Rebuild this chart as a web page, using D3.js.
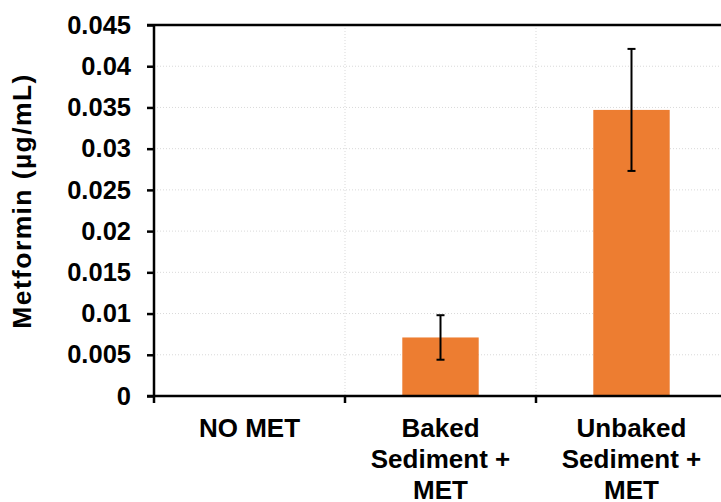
<!DOCTYPE html>
<html>
<head>
<meta charset="utf-8">
<script src="https://cdn.jsdelivr.net/npm/d3@7"></script>
<style>
  body { margin: 0; background: #fff; }
  svg { display: block; font-family: "Liberation Sans", Arial, sans-serif; font-weight: bold; }
</style>
</head>
<body>
<div id="chart"></div>
<script>
// data
var categories = ['NO MET', 'Baked Sediment + MET', 'Unbaked Sediment + MET'];
var catLines = [['NO MET'], ['Baked', 'Sediment +', 'MET'], ['Unbaked', 'Sediment +', 'MET']];
var means = [0, 0.0071, 0.0347];
var errs = [0, 0.0027, 0.0074];
var yTicks = [0, 0.005, 0.01, 0.015, 0.02, 0.025, 0.03, 0.035, 0.04, 0.045];
var yTickLabels = ['0', '0.005', '0.01', '0.015', '0.02', '0.025', '0.03', '0.035', '0.04', '0.045'];

var width = 721, height = 502;
var margin = { left: 154, top: 25, bottom: 396 };
var plotRight = 727;

var svg = d3.select('#chart').append('svg')
    .attr('width', width)
    .attr('height', height);

var xScale = d3.scaleBand()
    .domain(categories)
    .range([margin.left, plotRight])
    .paddingInner(0.6)
    .paddingOuter(0.3);
var step = xScale.step();
var yScale = d3.scaleLinear()
    .domain([0, 0.045])
    .range([margin.bottom, margin.top]);

// gridlines
svg.append('g').selectAll('line')
    .data(yTicks.slice(1, -1)).enter().append('line')
    .attr('x1', margin.left).attr('x2', plotRight)
    .attr('y1', d => yScale(d)).attr('y2', d => yScale(d))
    .attr('stroke', '#d9d9d9').attr('stroke-width', 1)
    .attr('stroke-dasharray', '1,2');
var bounds = [1, 2].map(i => margin.left + i * step);
svg.append('g').selectAll('line')
    .data(bounds).enter().append('line')
    .attr('x1', d => d).attr('x2', d => d)
    .attr('y1', margin.top).attr('y2', margin.bottom)
    .attr('stroke', '#d9d9d9').attr('stroke-width', 1)
    .attr('stroke-dasharray', '1,2');

// bars
svg.append('g').selectAll('rect')
    .data(means).enter().append('rect')
    .attr('x', (d, i) => xScale(categories[i]))
    .attr('width', xScale.bandwidth())
    .attr('y', d => yScale(d))
    .attr('height', d => yScale(0) - yScale(d))
    .attr('fill', '#ed7d31');

// error bars
var eb = svg.append('g').attr('stroke', '#000').attr('stroke-width', 2);
means.forEach(function(m, i) {
    if (errs[i] === 0) return;
    var cx = xScale(categories[i]) + xScale.bandwidth() / 2;
    var y1 = yScale(m + errs[i]), y2 = yScale(m - errs[i]);
    eb.append('line').attr('x1', cx).attr('x2', cx).attr('y1', y1).attr('y2', y2);
    eb.append('line').attr('x1', cx - 4).attr('x2', cx + 4).attr('y1', y1).attr('y2', y1);
    eb.append('line').attr('x1', cx - 4).attr('x2', cx + 4).attr('y1', y2).attr('y2', y2);
});

// top border
svg.append('line')
    .attr('x1', margin.left - 7).attr('x2', width)
    .attr('y1', margin.top).attr('y2', margin.top)
    .attr('stroke', '#000').attr('stroke-width', 2.5);

// y axis
var yAxis = svg.append('g')
    .attr('transform', `translate(${margin.left},0)`)
    .call(d3.axisLeft(yScale).tickValues(yTicks)
        .tickFormat((d, i) => yTickLabels[i]).tickSize(7).tickPadding(16));
yAxis.select('.domain').attr('stroke-width', 2.5).attr('d', `M0,${margin.top}V${margin.bottom + 7}`);
yAxis.selectAll('.tick line').attr('stroke-width', 2.5);
yAxis.selectAll('text').attr('font-size', 25.5).attr('font-weight', 'bold')
    .attr('font-family', '"Liberation Sans", Arial, sans-serif').attr('fill', '#000');

// x axis
var xg = svg.append('g');
xg.append('line')
    .attr('x1', margin.left - 7).attr('x2', width)
    .attr('y1', margin.bottom).attr('y2', margin.bottom)
    .attr('stroke', '#000').attr('stroke-width', 2.5);
xg.selectAll('.xtick')
    .data(bounds).enter().append('line')
    .attr('x1', d => d).attr('x2', d => d)
    .attr('y1', margin.bottom).attr('y2', margin.bottom + 7)
    .attr('stroke', '#000').attr('stroke-width', 2.5);

var labels = svg.append('g').attr('font-size', 26).attr('text-anchor', 'middle');
catLines.forEach(function(lines, i) {
    var cx = xScale(categories[i]) + xScale.bandwidth() / 2;
    lines.forEach(function(t, j) {
        labels.append('text')
            .attr('x', cx)
            .attr('y', 437 + j * 31)
            .text(t);
    });
});

// y axis title
svg.append('text')
    .attr('transform', 'translate(31,201) rotate(-90)')
    .attr('text-anchor', 'middle')
    .attr('font-size', 26.5)
    .attr('letter-spacing', 1.4)
    .text('Metformin (µg/mL)');
</script>
</body>
</html>
